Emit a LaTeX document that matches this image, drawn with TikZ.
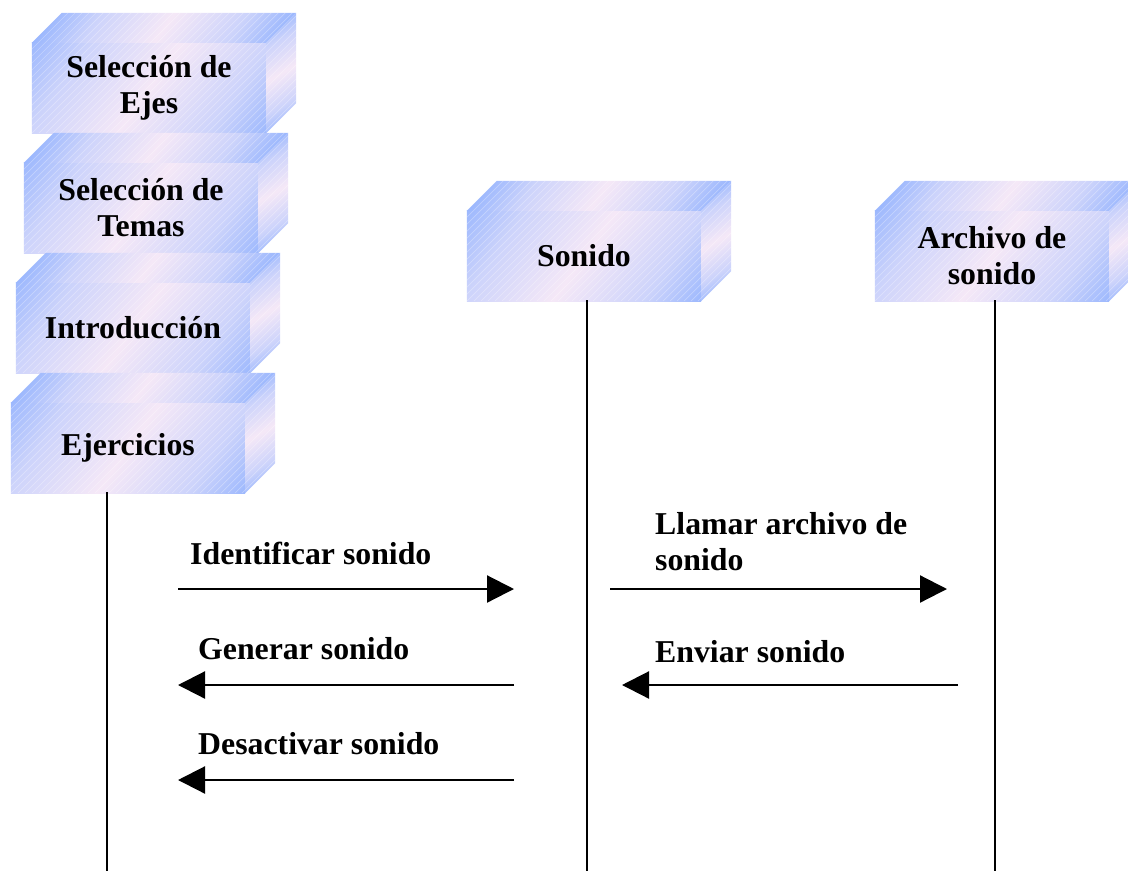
\documentclass[tikz,border=0pt]{standalone}
\usepackage{fontspec}
\setmainfont{Liberation Serif}
\usetikzlibrary{arrows.meta,calc}
\definecolor{boxblue}{HTML}{80A8FF}
\definecolor{boxpink}{HTML}{F5E8F7}
\definecolor{boxmid}{HTML}{CCD3FB}
% shadings for a 600pt square: blue reached at 150pt, 120pt and 60pt from the centre
\pgfdeclarehorizontalshading{shadefront}{100bp}{color(0bp)=(boxblue); color(37.5bp)=(boxblue); color(43.75bp)=(boxmid); color(50bp)=(boxpink); color(56.25bp)=(boxmid); color(62.5bp)=(boxblue); color(100bp)=(boxblue)}
\pgfdeclarehorizontalshading{shadetop}{100bp}{color(0bp)=(boxblue); color(40bp)=(boxblue); color(45bp)=(boxmid); color(50bp)=(boxpink); color(55bp)=(boxmid); color(60bp)=(boxblue); color(100bp)=(boxblue)}
\pgfdeclarehorizontalshading{shadeside}{100bp}{color(0bp)=(boxblue); color(45bp)=(boxblue); color(47.5bp)=(boxmid); color(50bp)=(boxpink); color(52.5bp)=(boxmid); color(55bp)=(boxblue); color(100bp)=(boxblue)}
\pgfdeclarelayer{background}
\pgfsetlayers{background,main}
\tikzset{
  cubefront/.style={rectangle, inner sep=0pt, minimum width=234pt, minimum height=90pt,
    align=center, font=\fontsize{31.8}{36}\selectfont\bfseries},
  hatchline/.style={white, opacity=0.3, line width=0.7pt},
  msg/.style={line width=2.2pt, -{Triangle[length=27pt,width=27pt]}},
  lifeline/.style={line width=2.2pt},
  msglabel/.style={inner sep=0pt, align=left, font=\fontsize{31.8}{36}\selectfont\bfseries}
}
\newcommand{\cubefaces}[1]{%
\begin{pgfonlayer}{background}
  \begin{scope}
    \clip (#1.north west) rectangle (#1.south east);
    \path[shading=shadefront, shading angle=-35] ($(#1.center)+(-300,-300)$) rectangle ($(#1.center)+(300,300)$);
  \end{scope}
  \begin{scope}
    \clip (#1.north west) -- ++(30,-30) -- ($(#1.north east)+(30,-30)$) -- (#1.north east) -- cycle;
    \path[shading=shadetop, shading angle=-35] ($(#1.north)+(15,-15)+(-300,-300)$) rectangle ($(#1.north)+(15,-15)+(300,300)$);
  \end{scope}
  \begin{scope}
    \clip (#1.north east) -- ++(30,-30) -- ($(#1.south east)+(30,-30)$) -- (#1.south east) -- cycle;
    \path[shading=shadeside, shading angle=-60] ($(#1.east)+(15,-15)+(-300,-300)$) rectangle ($(#1.east)+(15,-15)+(300,300)$);
  \end{scope}
  \begin{scope}
    \clip (#1.south west) -- (#1.north west) -- ++(30,-30) -- ($(#1.north east)+(30,-30)$) -- ($(#1.south east)+(30,-30)$) -- (#1.south east) -- cycle;
    \foreach \k in {-140,-133,...,280} \draw[hatchline] ($(#1.south west)+(\k,0)$) -- ++(140,-140);
  \end{scope}
\end{pgfonlayer}}
\begin{document}
\begin{tikzpicture}[x=1pt,y=-1pt]
\useasboundingbox (0,0) rectangle (1128,871);
% boxes
\node[cubefront] (ejes) at (149,88) {Selección de\\Ejes};
\cubefaces{ejes}
\node[cubefront] (temas) at (141,208) {Selección de\\Temas};
\cubefaces{temas}
\node[cubefront] (intro) at (133,328) {Introducción};
\cubefaces{intro}
\node[cubefront] (ejer) at (128,448) {Ejercicios};
\cubefaces{ejer}
\node[cubefront] (son) at (584,256) {Sonido};
\cubefaces{son}
\node[cubefront] (arch) at (992,256) {Archivo de\\sonido};
\cubefaces{arch}
% lifelines
\coordinate (l1top) at (107,492);
\coordinate (l1bot) at (107,871);
\coordinate (l2top) at (587,300);
\coordinate (l2bot) at (587,871);
\coordinate (l3top) at (995,300);
\coordinate (l3bot) at (995,871);
\draw[lifeline] (l1top) -- (l1bot);
\draw[lifeline] (l2top) -- (l2bot);
\draw[lifeline] (l3top) -- (l3bot);
% message end points
\coordinate (a1s) at (178,589); \coordinate (a1e) at (514,589);
\coordinate (a2s) at (514,685); \coordinate (a2e) at (178,685);
\coordinate (a3s) at (514,780); \coordinate (a3e) at (178,780);
\coordinate (a4s) at (610,589); \coordinate (a4e) at (947,589);
\coordinate (a5s) at (958,685); \coordinate (a5e) at (622,685);
\draw[msg] (a1s) -- (a1e);
\draw[msg] (a2s) -- (a2e);
\draw[msg] (a3s) -- (a3e);
\draw[msg] (a4s) -- (a4e);
\draw[msg] (a5s) -- (a5e);
% labels
\node[msglabel, anchor=base west] (t1) at (190,564) {Identificar sonido};
\node[msglabel, anchor=base west] (t2) at (198,659) {Generar sonido};
\node[msglabel, anchor=base west] (t3) at (198,754) {Desactivar sonido};
\node[msglabel, anchor=base west] (t4) at (655,570) {Llamar archivo de\\sonido};
\node[msglabel, anchor=base west] (t5) at (655,662) {Enviar sonido};
\end{tikzpicture}
\end{document}
